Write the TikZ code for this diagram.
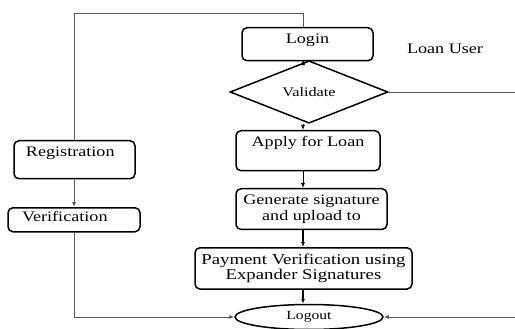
\documentclass[tikz,border=0pt]{standalone}
\usepackage{fontspec}
\setmainfont{Liberation Serif}[FakeStretch=1.25]
\usetikzlibrary{shapes.geometric,arrows.meta}

\tikzset{
	flowbox/.style={draw,rounded corners=5pt,line width=1.5pt,inner xsep=4pt,inner ysep=6pt,align=center},
	toptext/.style={text height=10pt,text depth=#1},
	decision/.style={draw,diamond,line width=1.5pt,inner sep=0pt,minimum width=158pt,minimum height=34pt},
	terminal/.style={draw,ellipse,line width=1.5pt,inner sep=0pt,minimum width=148pt,minimum height=25pt},
	flow/.style={-{Latex[length=5pt,width=4pt]},line width=0.9pt},
	heavyflow/.style={-{Latex[length=5pt,width=4pt]},line width=1.8pt},
	link/.style={draw=black!65,line width=0.8pt},
	linkto/.style={link,-{Latex[length=5pt,width=4pt]}}
}

\begin{document}
\begin{tikzpicture}[x=1pt,y=-1pt,font=\fontsize{14.5}{16}\selectfont]
	\useasboundingbox (0,0) rectangle (515,329);
	\coordinate (spine) at (303,0);
	\coordinate (topleft) at (74,13);
	\coordinate (rightrail) at (516,93);

	\node[flowbox,toptext=11pt,minimum width=131pt,anchor=north] (login) at (307.5,27) {Login};
	\node (loanuser) at (445,49) {Loan User};
	\node[decision,font=\fontsize{13}{15}\selectfont] (validate) at (309,92) {Validate};
	\node[flowbox,toptext=18pt,minimum width=144pt,anchor=north] (apply) at (308,130) {Apply for Loan};
	\node[flowbox,minimum width=151pt,minimum height=37pt,anchor=north] (generate) at (311.5,188) {Generate signature\\and upload to};
	\node[flowbox,font=\fontsize{15}{15.5}\selectfont,minimum width=217pt,minimum height=36pt,anchor=north] (payment) at (303.5,247) {Payment Verification using\\Expander Signatures};
	\node[terminal,font=\fontsize{12.5}{14}\selectfont] (logout) at (309,317) {Logout};

	\node[flowbox,toptext=16pt,inner xsep=12pt,text width=97pt,align=left,anchor=north] (registration) at (74.5,140) {Registration};
	\node[flowbox,toptext=6pt,inner ysep=4pt,inner xsep=14pt,text width=104pt,align=left,anchor=north] (verification) at (74,207) {Verification};

	\draw[flow] (login.south -| spine) -- (validate.north -| spine);
	\draw[flow] (validate.south -| spine) -- (apply.north -| spine);
	\draw[flow] (apply.south -| spine) -- (generate.north -| spine);
	\draw[heavyflow] (generate.south -| spine) -- (payment.north -| spine);
	\draw[heavyflow] (payment.south -| spine) -- (logout.north -| spine);

	\draw[link] (login.north -| spine) -- (spine |- topleft) -- (topleft) -- (registration.north -| topleft);
	\draw[linkto] (registration.south -| topleft) -- (verification.north -| topleft);
	\draw[linkto] (verification.south -| topleft) |- (logout.west);
	\draw[link] (validate.east) -- (validate.east -| rightrail);
	\draw[linkto] (rightrail) |- (logout.east);
\end{tikzpicture}
\end{document}
